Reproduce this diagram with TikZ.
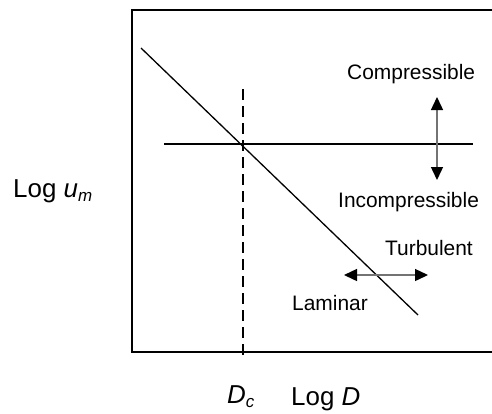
\documentclass[tikz,border=0pt]{standalone}
\usepackage{fontspec}
\setmainfont{Liberation Sans}
\usetikzlibrary{arrows.meta,positioning}
\tikzset{
  plFrame/.style={draw=black, line width=1.6bp},
  plLine/.style={draw=black, line width=1.3bp},
  plCrit/.style={draw=black, line width=1.6bp, dash pattern=on 11bp off 6bp},
  %% double arrows, black heads on a grey shaft
  plArrow/.style={{Triangle[length=13bp,width=12bp,color=black]}-{Triangle[length=13bp,width=12bp,color=black]},
    draw=black!55, line width=1.4bp},
  plText/.style={anchor=base west, inner sep=0pt, font=\fontsize{21}{25}\selectfont},
  plAxis/.style={anchor=base west, inner sep=0pt, font=\fontsize{26}{30}\selectfont},
}
\newcommand{\plSub}[1]{\raisebox{-0.3ex}{\fontsize{17}{17}\selectfont\itshape #1}}

\begin{document}
\begin{tikzpicture}[x=1bp, y=-1bp]
\useasboundingbox (0,0) rectangle (492,413);

%% Frame (open to the right)
\draw[plFrame] (492,10) -- (132,10) -- (132,352) -- (492,352);

%% Lines
\coordinate (lineTop) at (141,48);
\coordinate (lineEnd) at (418,315);
\coordinate (flowL) at (164,144);
\coordinate (flowR) at (473,144);
\coordinate (critTop) at (243,89);
\coordinate (critBot) at (243,358);
\draw[plLine] (lineTop) -- (lineEnd);
\draw[plLine] (flowL) -- (flowR);
\draw[plCrit] (critTop) -- (critBot);

%% Arrows
\coordinate (compUp) at (437,97);
\coordinate (compDn) at (437,180);
\coordinate (turbL) at (344,275);
\coordinate (turbR) at (428,275);
\draw[plArrow] (compDn) -- (compUp);
\draw[plArrow] (turbL) -- (turbR);

%% Labels
\node[plText] (lComp)   at (347,79)  {Compressible};
\node[plText] (lIncomp) at (338,207) {Incompressible};
\node[plText] (lTurb)   at (385,255) {Turbulent};
\node[plText] (lLam)    at (292,310) {Laminar};

\node[plAxis] (axY)  at (13,197)  {Log \textit{u}\plSub{m}};
\node[plAxis] (axDc) at (227,403) {\textit{D}\plSub{c}};
\node[plAxis] (axX)  at (291,405) {Log \textit{D}};

\end{tikzpicture}
\end{document}
